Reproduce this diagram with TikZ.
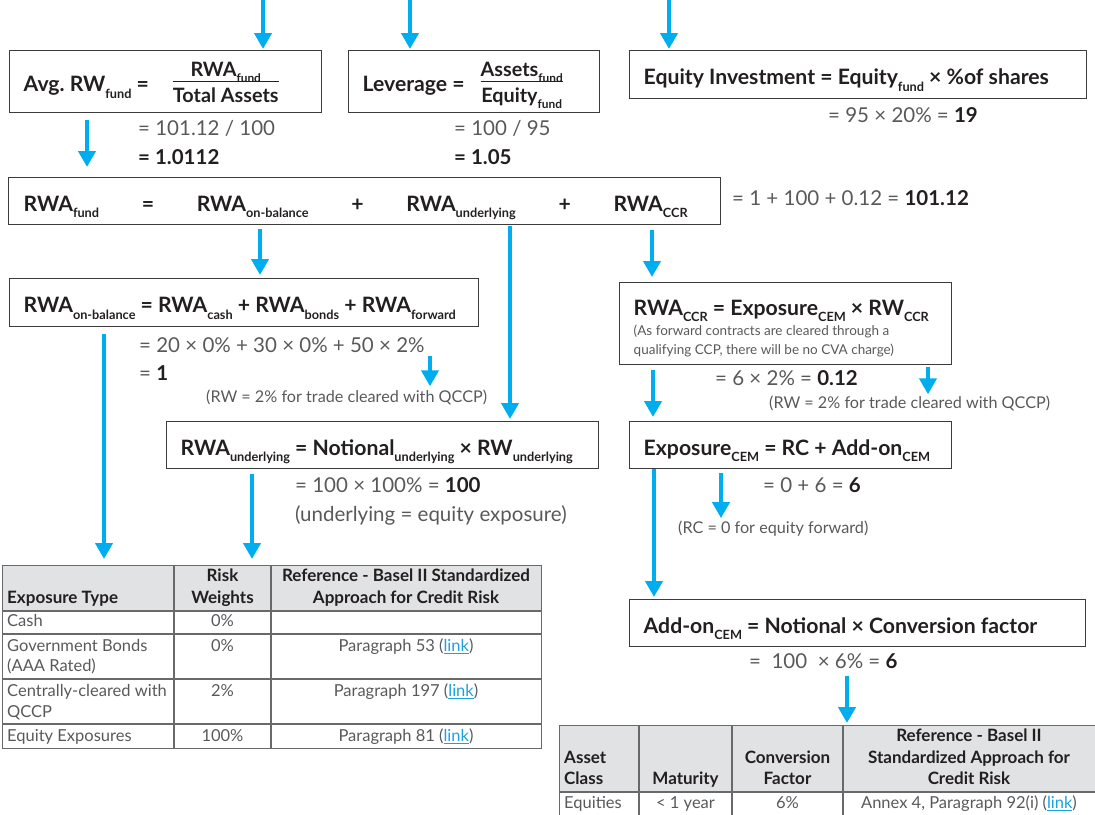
\documentclass[tikz,border=0pt]{standalone}
\usepackage{fontspec}
\setmainfont{Lato}
\usepackage{graphicx}
\usetikzlibrary{arrows.meta,positioning}
\definecolor{azzurro}{RGB}{0,174,239}
\definecolor{nero}{RGB}{35,31,32}
\definecolor{grigio}{RGB}{88,89,91}
\definecolor{bordo}{RGB}{60,60,60}
\definecolor{griglia}{RGB}{105,105,108}
\definecolor{testata}{RGB}{225,226,227}
\definecolor{collegamento}{RGB}{27,161,226}
\setlength{\arrayrulewidth}{1.2pt}
\frenchspacing
\newcommand{\sbs}[1]{\raisebox{-0.3em}{\scalebox{0.6}{#1}}}
\newcommand{\frazione}[2]{\raisebox{-11pt}{\fontsize{19.8}{23}\selectfont
    \begin{tabular}[b]{@{}c@{}}#1\\[-3pt]\hline\rule{0pt}{21pt}#2\end{tabular}}}
\newcommand{\lnk}{\textcolor{collegamento}{\underline{link}}}
\tikzstyle{formula chart}=[
    box/.style={draw=bordo, line width=1.4pt, anchor=north west, align=flush left,
        inner xsep=14pt, inner ysep=0pt, text=nero,
        font={\fontsize{21.2}{25}\selectfont\bfseries}},
    one line/.style={text height=20.5pt, text depth=0pt},
    value/.style={anchor=west, inner sep=0pt, text=grigio,
        font={\fontsize{20.5}{24}\selectfont}},
    result/.style={text=nero, font={\fontsize{20.5}{24}\selectfont\bfseries}},
    remark/.style={anchor=west, inner sep=0pt, text=grigio,
        font={\fontsize{16.2}{19}\selectfont}},
    flow/.style={draw=azzurro, line width=4.7pt, -{Triangle[width=17pt,length=16pt]}},
    grid/.style={draw=griglia, line width=1.3pt},
    cell/.style={inner sep=0pt, text=grigio, font={\fontsize{16.5}{19}\selectfont}},
    headcell/.style={inner sep=0pt, text=nero, font={\fontsize{17}{20}\selectfont\bfseries}},
]

\begin{document}
\begin{tikzpicture}
[
    formula chart,
    x=1pt, y=-1pt
]
    \useasboundingbox (0,0) rectangle (1095,814);

    % inputs from above
    \coordinate (inA) at (263,0);
    \coordinate (inB) at (410,0);
    \coordinate (inC) at (669,0);

    % fund level
    \node[box, one line, text width=284pt, minimum height=62pt] (avg) at (9,50)
        {Avg. RW\sbs{fund} =\hspace{24pt}\frazione{RWA\sbs{fund}}{Total Assets}};
    \node[box, one line, text width=223pt, minimum height=62pt] (lev) at (348,50)
        {Leverage =\hspace{16pt}\frazione{Assets\sbs{fund}}{Equity\sbs{fund}}};
    \node[box, one line, text width=429pt, minimum height=48pt] (eqinv) at (629,50)
        {Equity Investment = Equity\sbs{fund} × \%of shares};

    \node[value] (avgv1) at (138,128) {= 101.12 / 100};
    \node[value, result] (avgv2) at (138,157) {= 1.0112};
    \node[value] (levv1) at (454,128) {= 100 / 95};
    \node[value, result] (levv2) at (454,157) {= 1.05};
    \node[value] (eqv) at (828,115) {= 95 × 20\% = \textbf{\color{nero}19}};

    \node[box, one line, text width=682pt, minimum height=47pt, inner xsep=15pt] (fund) at (8,177)
        {RWA\sbs{fund}\hspace{\fill}=\hspace{\fill}RWA\sbs{on-balance}\hspace{\fill}+\hspace{\fill}RWA\sbs{underlying}\hspace{\fill}+\hspace{\fill}RWA\sbs{CCR}\hspace*{18pt}};
    \node[value] (fundv) at (732,198) {= 1 + 100 + 0.12 = \textbf{\color{nero}101.12}};

    % on-balance sheet
    \node[box, one line, text width=441pt, minimum height=48pt] (onbal) at (9,278)
        {RWA\sbs{on-balance} = RWA\sbs{cash} + RWA\sbs{bonds} + RWA\sbs{forward}};
    \node[value] (obv1) at (139,345) {= 20 × 0\% + 30 × 0\% + 50 × 2\%};
    \node[value] (obv2) at (139,373) {= \textbf{\color{nero}1}};
    \node[remark] (obnote) at (206,397) {(RW = 2\% for trade cleared with QCCP)};

    % underlying
    \node[box, one line, text width=404pt, minimum height=47pt] (und) at (166,421)
        {RWA\sbs{underlying} = Notional\sbs{underlying} × RW\sbs{underlying}};
    \node[value] (undv1) at (295,485) {= 100 × 100\% = \textbf{\color{nero}100}};
    \node[value] (undv2) at (295,515) {(underlying = equity exposure)};

    % counterparty credit risk
    \node[box, text width=304pt, minimum height=82pt] (ccr) at (619,282)
        {\rule{0pt}{25pt}RWA\sbs{CCR} = Exposure\sbs{CEM} × RW\sbs{CCR}\\[1.5pt]
        {\fontsize{13.5}{19}\selectfont\mdseries\color{grigio}(As forward contracts are cleared through a\\
        qualifying CCP, there will be no CVA charge)\par}};
    \node[value] (ccrv) at (715,378) {= 6 × 2\% = \textbf{\color{nero}0.12}};
    \node[remark] (ccrnote) at (769,403) {(RW = 2\% for trade cleared with QCCP)};

    \node[box, one line, text width=294pt, minimum height=47pt] (expo) at (629,421)
        {Exposure\sbs{CEM} = RC + Add-on\sbs{CEM}};
    \node[value] (expv) at (763,485) {= 0 + 6 = \textbf{\color{nero}6}};
    \node[remark] (exnote) at (678,529) {(RC = 0 for equity forward)};

    \node[box, one line, text width=428pt, minimum height=47pt] (addon) at (629,599)
        {Add-on\sbs{CEM} = Notional × Conversion factor};
    \node[value] (addv) at (749,661) {= \ 100 \ × 6\% = \textbf{\color{nero}6}};

    % risk weight table
    \fill[testata] (2,565) rectangle (541,611);
    \node[grid, anchor=north west, inner sep=0pt, minimum width=539pt, minimum height=183pt] (tabrw) at (2,565) {};
    \foreach \y in {611,634,679,724} \draw[grid] (2,\y) -- (541,\y);
    \foreach \x in {174,271} \draw[grid] (\x,565) -- (\x,748);
    \node[headcell, anchor=mid west] (rwhead1) at (7,601) {Exposure Type};
    \foreach \t/\x/\y [count=\i from 2] in {Risk/222.5/579, Weights/222.5/601,
        Reference - Basel II Standardized/406/579, Approach for Credit Risk/406/601}
        \node[headcell, anchor=mid] (rwhead\i) at (\x,\y) {\t};
    \foreach \t/\y [count=\i] in {Cash/624, Government Bonds/649, (AAA Rated)/669,
        Centrally-cleared with/694, QCCP/715, Equity Exposures/739}
        \node[cell, anchor=mid west] (rwtype\i) at (7,\y) {\t};
    \foreach \t/\y [count=\i] in {0\%/624, 0\%/649, 2\%/694, 100\%/739}
        \node[cell, anchor=mid] (rwweight\i) at (222.5,\y) {\t};
    \foreach \t/\y [count=\i] in {Paragraph 53 (\lnk)/649, Paragraph 197 (\lnk)/694,
        Paragraph 81 (\lnk)/739}
        \node[cell, anchor=mid] (rwref\i) at (406,\y) {\t};

    % conversion factor table
    \fill[testata] (559,725) rectangle (1100,792);
    \node[grid, anchor=north west, inner sep=0pt, minimum width=541pt, minimum height=100pt] (tabcf) at (559,725) {};
    \draw[grid] (559,792) -- (1100,792);
    \foreach \x in {639,732,843} \draw[grid] (\x,725) -- (\x,825);
    \foreach \t/\x/\y [count=\i] in {Asset/564/761, Class/564/782}
        \node[headcell, anchor=mid west] (cfhead\i) at (\x,\y) {\t};
    \foreach \t/\x/\y [count=\i from 3] in {Maturity/685.5/782, Conversion/787.5/761,
        Factor/787.5/782, Reference - Basel II/969/739, Standardized Approach for/969/761,
        Credit Risk/969/782}
        \node[headcell, anchor=mid] (cfhead\i) at (\x,\y) {\t};
    \node[cell, anchor=mid west] (cfclass) at (564,806) {Equities};
    \foreach \t/\x [count=\i] in {< 1 year/685.5, 6\%/787.5, {Annex 4, Paragraph 92(i) (\lnk)}/969}
        \node[cell, anchor=mid] (cfrow\i) at (\x,806) {\t};

    % connectors
    \draw[flow, shorten >=1pt] (inA) -- (inA |- avg.north);
    \draw[flow, shorten >=1pt] (inB) -- (inB |- lev.north);
    \draw[flow, shorten >=1pt] (inC) -- (inC |- eqinv.north);
    \draw[flow, shorten <=7pt, shorten >=10pt] ([xshift=78pt]avg.south west) -- ([xshift=78pt]avg.south west |- fund.north);
    \draw[flow, shorten <=4pt, shorten >=3pt] ([xshift=252pt]fund.south west) -- ([xshift=252pt]fund.south west |- onbal.north);
    \draw[flow, shorten <=1pt, shorten >=2pt] ([xshift=502pt]fund.south west) -- ([xshift=502pt]fund.south west |- und.north);
    \draw[flow, shorten <=5pt, shorten >=5pt] ([xshift=644pt]fund.south west) -- ([xshift=644pt]fund.south west |- ccr.north);
    \draw[flow, shorten <=7pt, shorten >=6pt] ([xshift=95pt]onbal.south west) -- ([xshift=95pt]onbal.south west |- tabrw.north);
    \draw[flow, shorten <=3pt, shorten >=3pt] ([xshift=291pt]obv1.south west) -- ([xshift=291pt]obv1.south west |- obnote.north);
    \draw[flow, shorten <=5pt, shorten >=6pt] ([xshift=86pt]und.south west) -- ([xshift=86pt]und.south west |- tabrw.north);
    \draw[flow, shorten <=5pt, shorten >=4pt] ([xshift=34pt]ccr.south west) -- ([xshift=34pt]ccr.south west |- expo.north);
    \draw[flow, shorten <=2pt, shorten >=1pt] ([xshift=309pt]ccr.south west) -- ([xshift=309pt]ccr.south west |- ccrnote.north);
    \draw[flow, shorten <=4pt, shorten >=3pt] ([xshift=92pt]expo.south west) -- ([xshift=92pt]expo.south west |- exnote.north);
    \draw[flow, shorten >=2pt] ([xshift=25pt]expo.south west) -- ([xshift=25pt]expo.south west |- addon.north);
    \draw[flow, shorten <=7pt, shorten >=2pt] ([xshift=288pt]tabcf.north west |- addv.south) -- ([xshift=288pt]tabcf.north west);

\end{tikzpicture}
\end{document}
